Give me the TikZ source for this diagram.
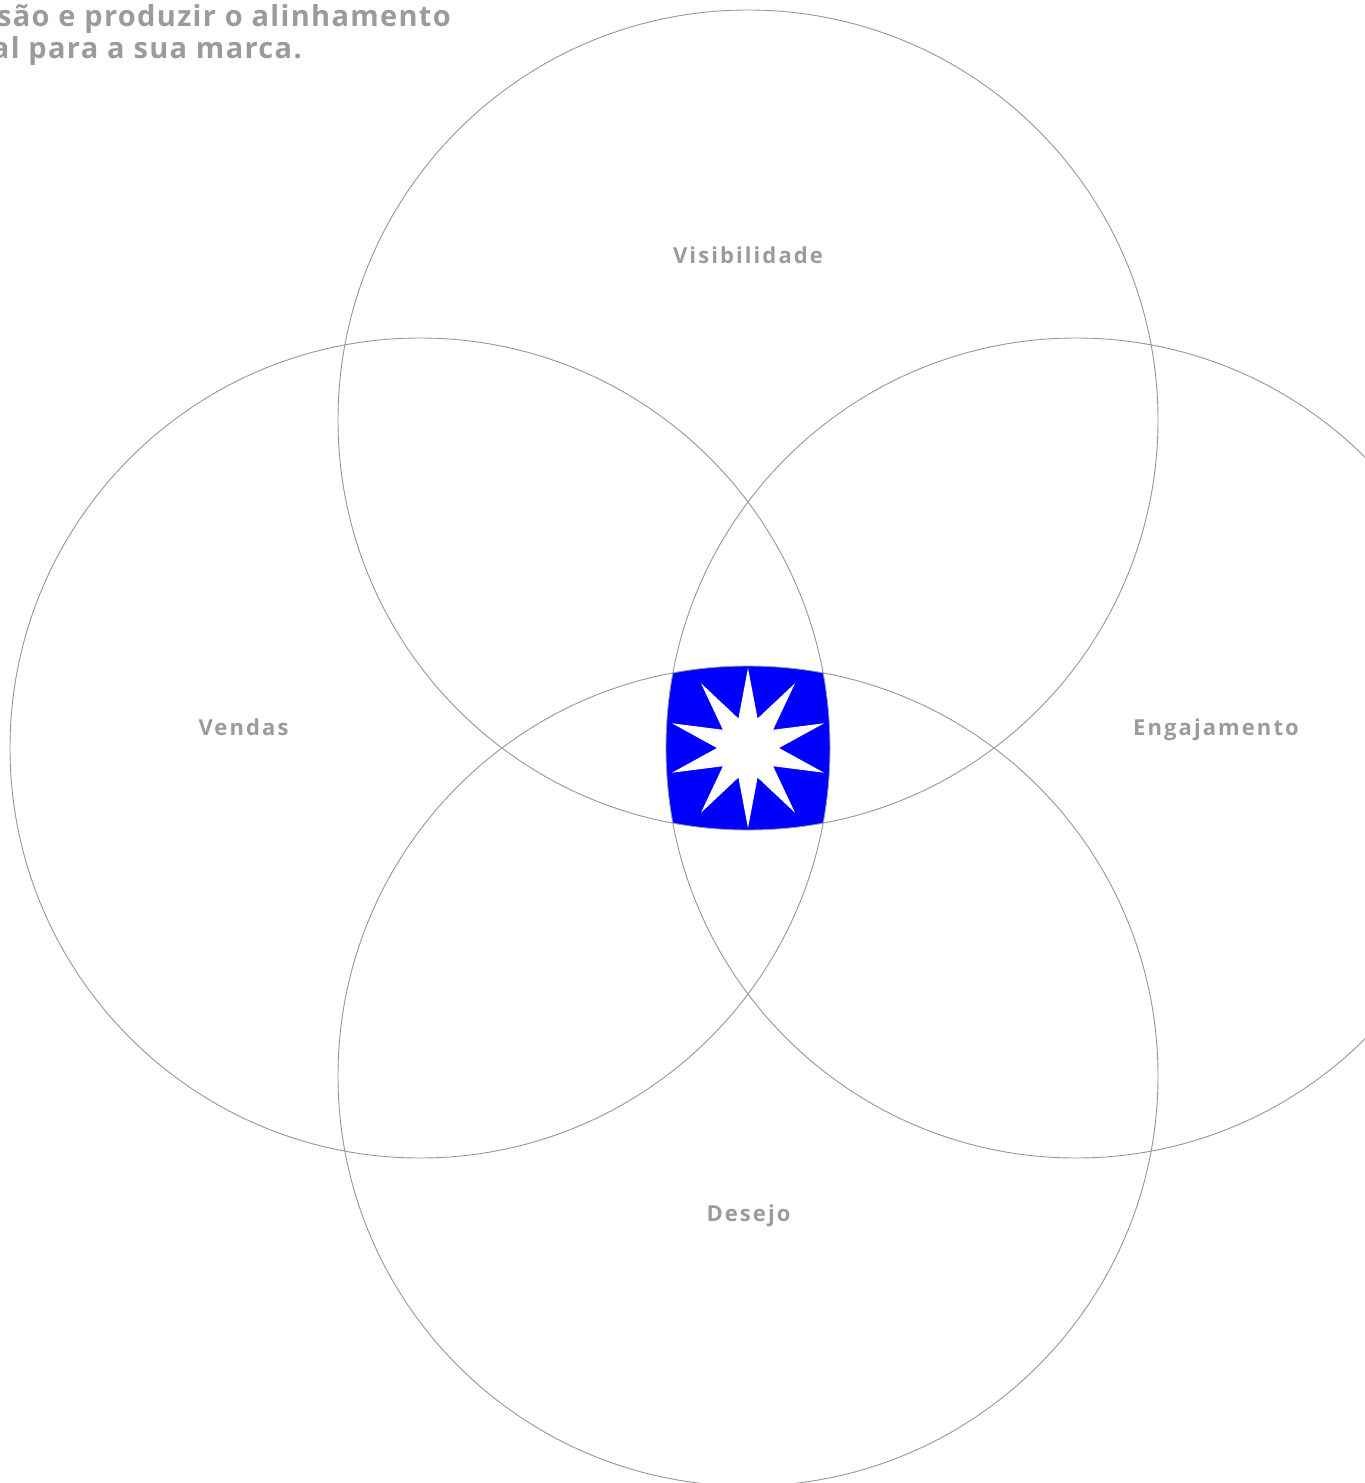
\documentclass[tikz,border=0pt]{standalone}
\usepackage{fontspec}
\setmainfont{Open Sans}
\newfontfamily\labfont[LetterSpace=9.5]{Open Sans}
\newfontfamily\headfont[LetterSpace=4.5]{Open Sans}
\definecolor{txtgray}{RGB}{155,155,155}
\definecolor{linegray}{RGB}{150,150,150}
\definecolor{vennblue}{RGB}{0,0,255}
\begin{document}
\begin{tikzpicture}[x=1pt,y=-1pt,
  ring/.style={draw=linegray,line width=0.9pt},
  lab/.style={text=txtgray,font=\labfont\bfseries\fontsize{22}{26}\selectfont,inner sep=0pt,anchor=base},
  headline/.style={text=txtgray,font=\headfont\bfseries\fontsize{29}{32}\selectfont,inner sep=0pt,anchor=base east}]
\useasboundingbox (0,0) rectangle (1365,1483);
\clip (0,0) rectangle (1365,1483);
% intersection region
\begin{scope}
  \clip (748,420) circle [radius=410pt];
  \clip (420,748) circle [radius=410pt];
  \clip (1076,748) circle [radius=410pt];
  \clip (748,1076) circle [radius=410pt];
  \fill[vennblue] (660,660) rectangle (836,836);
\end{scope}
% star
\fill[white,shift={(748,748)}] (90:80pt)
  \foreach \k in {0,...,9} { -- ({108+36*\k}:31pt) -- ({126+36*\k}:80pt) } -- cycle;
% circles
\draw[ring] (748,420) circle [radius=410pt];
\draw[ring] (420,748) circle [radius=410pt];
\draw[ring] (1076,748) circle [radius=410pt];
\draw[ring] (748,1076) circle [radius=410pt];
% labels
\node[lab] (vis) at (748,263) {Visibilidade};
\node[lab] (ven) at (243.5,735) {Vendas};
\node[lab] (eng) at (1216,735) {Engajamento};
\node[lab] (des) at (748.5,1221) {Desejo};
% headline
\node[headline] (h1) at (451,26) {são e produzir o alinhamento};
\node[headline] (h2) at (302,58) {al para a sua marca.};
\end{tikzpicture}
\end{document}
